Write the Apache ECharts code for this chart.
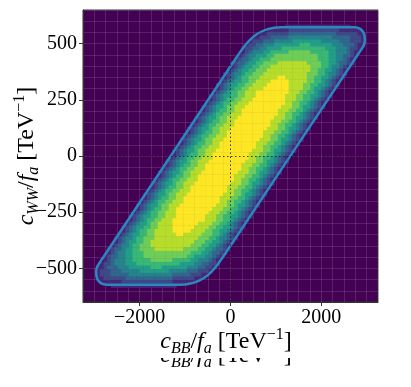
<!DOCTYPE html>
<html>
<head>
<meta charset="utf-8">
<script src="https://cdn.jsdelivr.net/npm/echarts@6/dist/echarts.min.js"></script>
<style>
  html, body { margin: 0; padding: 0; background: #fff; }
  #chart { width: 411px; height: 387px; }
</style>
</head>
<body>
<div id="chart"></div>
<script>
// histogram bins (data units)
const xBinStart = -3200;
const xBinWidth = 80;
const yBinTop = 650;
const yBinHeight = 16.25;

// density level 0..9 per bin, one row per c_WW bin from the top down:
// [first non-empty column, levels from that column on]
const densityRows = [
  [0, ''], [0, ''], [0, ''], [0, ''],
  [55, '111111111111111111'],
  [50, '11111122222222222222111111'],
  [48, '11222222333333333333322222211'],
  [46, '1122233333444444444444333332221'],
  [45, '12223334444455555555444443332221'],
  [44, '122334445555555666555555444333211'],
  [43, '122334455556666666666665554443221'],
  [43, '12344455666667777776666655444321'],
  [42, '123445556677777777777766655443321'],
  [41, '123345566677777777777776665544321'],
  [40, '1233455667777888888887777665543321'],
  [40, '123455667778888888888877766544321'],
  [39, '123455667778888888888887766554321'],
  [38, '1234456677788888888888877766544321'],
  [38, '123456677788888998888887766554321'],
  [37, '123455667788889999988888776654321'],
  [36, '1234556677888899999988887766554321'],
  [36, '123456677888899999998888776554321'],
  [35, '123456677888999999999888776654321'],
  [34, '1234556677888999999998887766554321'],
  [34, '123456677888999999999888776654321'],
  [33, '123456677888999999999988776654321'],
  [32, '1234556778889999999999888776554321'],
  [32, '123456677889999999999888776654321'],
  [31, '123456677888999999999988776654321'],
  [30, '1234556778889999999999888776554321'],
  [30, '123456677889999999999888776654321'],
  [29, '123456677888999999999988776654321'],
  [28, '1234556778889999999999888776554321'],
  [28, '123456677889999999999888776654321'],
  [27, '123456677888999999999988776654321'],
  [26, '1234556778889999999999888776554321'],
  [26, '123456677889999999999888776654321'],
  [25, '123456677888999999999988776654321'],
  [24, '1234556778889999999999888776554321'],
  [24, '123456677889999999999888776654321'],
  [23, '123456677888999999999988776654321'],
  [22, '1234556778889999999999888776554321'],
  [22, '123456677889999999999888776654321'],
  [21, '123456677888999999999988776654321'],
  [20, '1234556778889999999999888776554321'],
  [20, '123456677889999999999888776654321'],
  [19, '123456677888999999999988776654321'],
  [18, '1234556778889999999999888776554321'],
  [18, '123456677889999999999888776654321'],
  [17, '123456677888999999999988776654321'],
  [16, '1234556778889999999999888776554321'],
  [16, '123456677889999999999888776654321'],
  [15, '123456677888999999999988776654321'],
  [14, '1234556778889999999999888776554321'],
  [14, '123456677889999999999888776654321'],
  [13, '123456677888999999999888776654321'],
  [12, '1234556677888999999998887766554321'],
  [12, '123456677888999999999888776654321'],
  [11, '123455677888899999998888776654321'],
  [10, '1234556677888899999988887766554321'],
  [10, '123456677888889999988887766554321'],
  [9, '123455667788888899888887776654321'],
  [8, '1234456677788888888888877766544321'],
  [8, '123455667788888888888877766554321'],
  [7, '123445667778888888888877766554321'],
  [6, '1233455667777888888887777665543321'],
  [6, '123445566677777777777776665543321'],
  [5, '123344556667777777777776655544321'],
  [5, '12344455666667777776666655444321'],
  [4, '122344455566666666666655554433221'],
  [3, '112333444555555666555555544433221'],
  [3, '12223334444455555555444443332221'],
  [3, '1222333334444444444443333322211'],
  [3, '11222222333333333333322222211'],
  [4, '11111122222222222222111111'],
  [7, '111111111111111111'],
  [0, ''], [0, ''], [0, ''], [0, '']
];

// outer contour
const contourX = [-2880, 120, 330, 560, 820, 1100, 2720, 2860, 2940, 2960, 2935, 2880,
  -120, -330, -560, -820, -1100, -2720, -2860, -2940, -2960, -2935, -2880];
const contourY = [-474, 435, 495, 540, 565, 573, 573, 566, 545, 515, 492, 474,
  -435, -495, -540, -565, -573, -573, -566, -545, -515, -492, -474];

const xTicks = [-2000, 0, 2000];
const yTicks = [-500, -250, 0, 250, 500];

const viridis = ['#440154', '#482475', '#414487', '#355f8d', '#2a788e', '#21918c',
  '#22a884', '#44bf70', '#7ad151', '#bddf26', '#fde725'];

const serif = 'Liberation Serif';

// cells of the histogram
let cells = [];
for (let r = 0; r < densityRows.length; r++) {
  let start = densityRows[r][0];
  let levels = densityRows[r][1];
  for (let k = 0; k < levels.length; k++) {
    let level = Number(levels[k]);
    if (level > 0) {
      let c = start + k;
      cells.push([xBinStart + xBinWidth * (c + 0.5), yBinTop - yBinHeight * (r + 0.5), level]);
    }
  }
}

let contour = contourX.map((x, i) => [x, contourY[i]]);

function renderCell(params, api) {
  let x = api.value(0);
  let y = api.value(1);
  let p0 = api.coord([x - xBinWidth / 2, y + yBinHeight / 2]);
  let p1 = api.coord([x + xBinWidth / 2, y - yBinHeight / 2]);
  return {
    type: 'rect',
    shape: { x: p0[0], y: p0[1], width: p1[0] - p0[0] + 0.5, height: p1[1] - p0[1] + 0.5 },
    style: { fill: api.visual('color') }
  };
}

function tickText(v) {
  return v < 0 ? '\u2212' + Math.abs(v) : String(v);
}

// axis title pieces (math italic + sub/superscripts)
const titleRich = {
  i: { fontFamily: serif, fontStyle: 'italic', fontSize: 24, lineHeight: 30, color: '#000' },
  n: { fontFamily: serif, fontSize: 24, lineHeight: 30, color: '#000' },
  s: { fontFamily: serif, fontStyle: 'italic', fontSize: 16, lineHeight: 18, verticalAlign: 'bottom', color: '#000' },
  p: { fontFamily: serif, fontSize: 16, lineHeight: 18, verticalAlign: 'top', color: '#000' }
};
const xTitle = '{i|c}{s|BB}{n|/}{i|f}{s|a}{n| [TeV}{p|\u22121}{n|]}';
const yTitle = '{i|c}{s|WW}{n|/}{i|f}{s|a}{n| [TeV}{p|\u22121}{n|]}';

// faint background grid of the plot
const gridLine = { show: true, lineStyle: { color: 'rgba(255,255,255,0.12)', width: 1 } };

let myChart = echarts.init(document.getElementById('chart'), null, { renderer: 'canvas' });

let option = {
  animation: false,
  backgroundColor: '#fff',
  grid: {
    left: 83, right: 33, top: 10, bottom: 85,
    show: true,
    z: 0,
    backgroundColor: '#440154',
    borderColor: '#333',
    borderWidth: 1
  },
  xAxis: [
    {
      type: 'value',
      min: -3250,
      max: 3250,
      z: 1,
      axisLine: { show: true, onZero: false, lineStyle: { color: '#333', width: 1 } },
      axisTick: { show: true, customValues: xTicks, length: 4, lineStyle: { color: '#333' } },
      axisLabel: {
        customValues: xTicks,
        formatter: tickText,
        margin: 6,
        fontFamily: serif,
        fontSize: 20,
        color: '#000'
      },
      splitLine: { show: false }
    },
    {
      type: 'value',
      position: 'top',
      min: -3250,
      max: 3250,
      interval: 250,
      z: 1,
      axisLine: { show: false },
      axisTick: { show: false },
      axisLabel: { show: false },
      splitLine: gridLine
    }
  ],
  yAxis: [
    {
      type: 'value',
      min: -650,
      max: 650,
      z: 1,
      axisLine: { show: true, onZero: false, lineStyle: { color: '#333', width: 1 } },
      axisTick: { show: true, customValues: yTicks, length: 4, lineStyle: { color: '#333' } },
      axisLabel: {
        customValues: yTicks,
        formatter: tickText,
        margin: 6,
        fontFamily: serif,
        fontSize: 20,
        color: '#000'
      },
      splitLine: { show: false }
    },
    {
      type: 'value',
      position: 'right',
      min: -650,
      max: 650,
      interval: 50,
      z: 1,
      axisLine: { show: false },
      axisTick: { show: false },
      axisLabel: { show: false },
      splitLine: gridLine
    }
  ],
  visualMap: {
    show: false,
    type: 'continuous',
    min: 0,
    max: 9,
    dimension: 2,
    seriesIndex: 0,
    inRange: { color: viridis }
  },
  series: [
    {
      type: 'custom',
      z: 2,
      clip: true,
      renderItem: renderCell,
      data: cells,
      silent: true
    },
    {
      type: 'line',
      z: 3,
      data: contour,
      showSymbol: false,
      symbol: 'none',
      smooth: 0.2,
      lineStyle: { color: '#2a88c0', width: 2.5 },
      silent: true,
      markLine: {
        silent: true,
        symbol: ['none', 'none'],
        label: { show: false },
        lineStyle: { color: 'rgba(30,30,30,0.85)', type: [1.5, 2.5], width: 1 },
        data: [{ xAxis: 0 }, { yAxis: 0 }]
      }
    }
  ],
  graphic: [
    {
      type: 'text', x: 226, y: 356, z: 1,
      style: { text: xTitle, rich: titleRich, align: 'center', verticalAlign: 'middle' }
    },
    {
      type: 'rect', z: 2,
      shape: { x: 120, y: 336, width: 210, height: 22 },
      style: { fill: '#fff' }
    },
    {
      type: 'text', x: 226, y: 342, z: 3,
      style: { text: xTitle, rich: titleRich, align: 'center', verticalAlign: 'middle' }
    },
    {
      type: 'text', x: 27, y: 156, z: 3, rotation: Math.PI / 2,
      style: { text: yTitle, rich: titleRich, align: 'center', verticalAlign: 'middle' }
    }
  ]
};

myChart.setOption(option);
</script>
</body>
</html>
